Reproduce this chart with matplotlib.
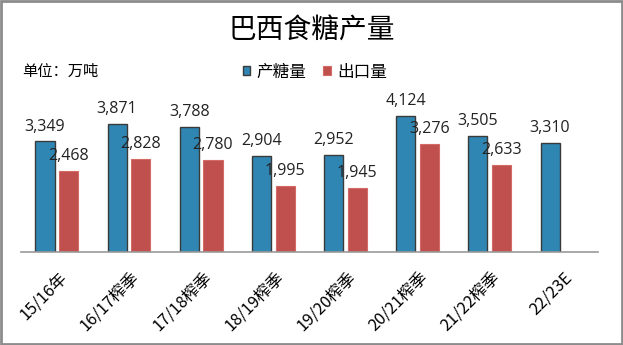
import matplotlib.pyplot as plt
from matplotlib.patches import Rectangle
import numpy as np

plt.rcParams['font.family'] = ['Noto Sans CJK SC', 'DejaVu Sans']

seasons = ["15/16年", "16/17榨季", "17/18榨季", "18/19榨季",
           "19/20榨季", "20/21榨季", "21/22榨季", "22/23E"]
production = [3349, 3871, 3788, 2904, 2952, 4124, 3505, 3310]
exports = [2468, 2828, 2780, 1995, 1945, 3276, 2633]

blue = "#2f86b3"
red = "#c0504d"

fig = plt.figure(figsize=(6.23, 3.45), dpi=100)
W, H = 623, 345
# plot area in pixels: x 20.7..598, baseline at y=252
ax = fig.add_axes([20.7 / W, 1 - 252 / H, 577.3 / W, 165 / H])

x = np.arange(len(seasons))
w = 0.265
off = 0.164
b1 = ax.bar(x - off, production, w, color=blue, edgecolor="#3a3a3a", linewidth=1.0, label="产糖量")
b2 = ax.bar(x[:len(exports)] + off, exports, w, color=red, edgecolor="#d46a66", linewidth=0.8, label="出口量")

for bars in (b1, b2):
    for r in bars:
        ax.annotate(f"{int(r.get_height()):,}", (r.get_x() + r.get_width() / 2, r.get_height()),
                    xytext=(0, 5), textcoords="offset points", ha="center", va="bottom",
                    fontsize=11.5, family="Open Sans", color="#222222")

ax.set_xlim(-0.5, len(seasons) - 0.5)
ax.set_ylim(0, 5000)
ax.set_yticks([])
ax.set_xticks(x + 0.02)
ax.set_xticklabels(seasons, rotation=45, ha="right", va="top", rotation_mode="anchor", fontsize=11.8)
ax.tick_params(axis="x", length=0, pad=12)
for s in ("top", "left", "right"):
    ax.spines[s].set_visible(False)
ax.spines["bottom"].set_color("#9a9a9a")
ax.spines["bottom"].set_linewidth(1.2)

fig.text(312 / W, 1 - 30 / H, "巴西食糖产量", ha="center", va="center", fontsize=20)
fig.text(22 / W, 1 - 71 / H, "单位：万吨", ha="left", va="center", fontsize=11)
fig.legend(handles=[b1, b2], loc="center", bbox_to_anchor=(315 / W, 1 - 72 / H), ncol=2,
           frameon=False, fontsize=12, handlelength=0.45, handleheight=0.45,
           handletextpad=0.4, columnspacing=1.0)

fig.patches.append(Rectangle((0.002, 0.003), 0.996, 0.994, transform=fig.transFigure,
                             fill=False, edgecolor="#8c8c8c", linewidth=2))

fig.savefig("out.png", dpi=100)
